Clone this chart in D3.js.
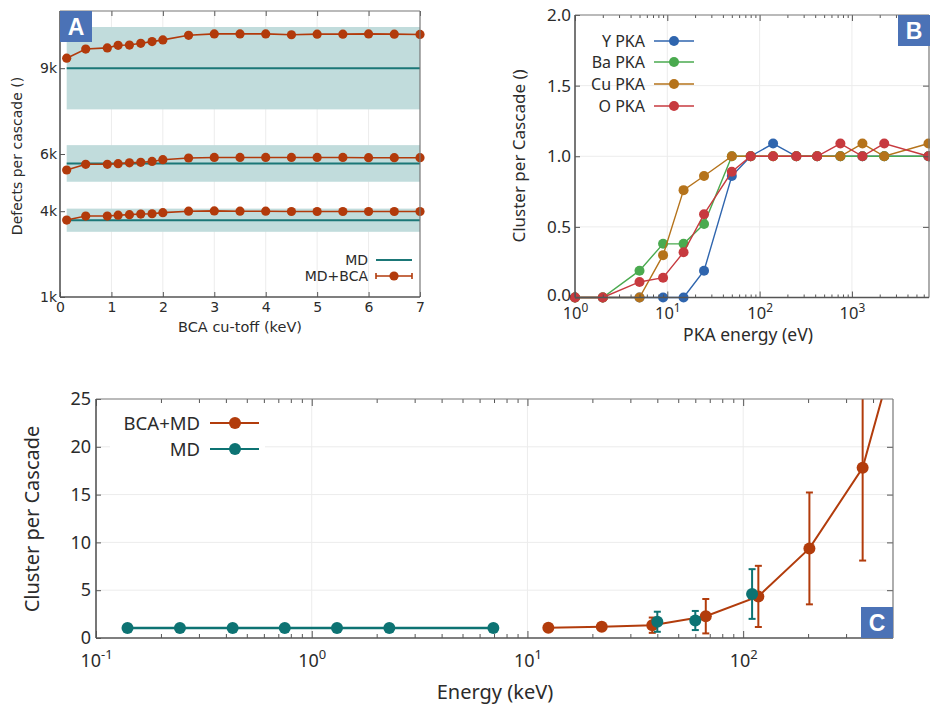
<!DOCTYPE html>
<html>
<head>
<meta charset="utf-8">
<script src="https://cdn.jsdelivr.net/npm/d3@7"></script>
<style>
  body { margin: 0; background: #fff; }
  svg { display: block; }
</style>
</head>
<body>
<svg id="fig" width="930" height="709"></svg>
<script>
// ---- Panel A: defects per cascade vs BCA cut-off ----
const cutoffKeV = [0.13, 0.5, 0.92, 1.13, 1.35, 1.57, 1.79, 2.0, 2.5, 3, 3.5, 4, 4.5, 5, 5.5, 6, 6.5, 7];
const bcaHigh = [9350, 9670, 9710, 9800, 9810, 9870, 9930, 9990, 10150, 10200, 10200, 10200, 10170, 10190, 10190, 10200, 10190, 10180];
const bcaMid  = [5440, 5640, 5640, 5660, 5690, 5710, 5740, 5800, 5860, 5880, 5880, 5880, 5880, 5880, 5880, 5870, 5870, 5870];
const bcaLow  = [3690, 3830, 3830, 3860, 3880, 3900, 3910, 3950, 4000, 4010, 4000, 4000, 3990, 3990, 3990, 3990, 3990, 3990];
const mdMean   = [9000, 5670, 3685];
const mdSpread = [1440, 640, 405];
const defectTicks = [1000, 4000, 6000, 9000];

// ---- Panel B: cluster per cascade vs PKA energy ----
const pkaEnergy = [1, 2, 5, 9, 15, 25, 50, 80, 140, 250, 420, 750, 1300, 2240, 6750];
const yPKA  = [0, 0, 0, 0, 0, 0.19, 0.86, 1.0, 1.09, 1.0, 1.0, 1.0, 1.0, 1.0, 1.0];
const baPKA = [0, 0, 0.19, 0.38, 0.38, 0.52, 1.0, 1.0, 1.0, 1.0, 1.0, 1.0, 1.0, 1.0, 1.0];
const cuPKA = [0, 0, 0, 0.30, 0.76, 0.86, 1.0, 1.0, 1.0, 1.0, 1.0, 1.0, 1.09, 1.0, 1.09];
const oPKA  = [0, 0, 0.11, 0.14, 0.32, 0.59, 0.89, 1.0, 1.0, 1.0, 1.0, 1.09, 1.0, 1.09, 1.0];
const pkaNames = ["Y PKA", "Ba PKA", "Cu PKA", "O PKA"];
const clusterTicksB = [0, 0.5, 1.0, 1.5, 2.0];

// ---- Panel C: cluster per cascade vs energy ----
const mdEnergy   = [0.14, 0.245, 0.43, 0.75, 1.31, 2.29, 6.95];
const mdClusters = [1.05, 1.05, 1.05, 1.05, 1.05, 1.05, 1.05];
const mdHiEnergy   = [40, 60, 110];
const mdHiClusters = [1.7, 1.83, 4.6];
const mdHiErr      = [1.05, 1.0, 2.6];
const bcaEnergy   = [12.5, 22.1, 37.9, 67.1, 117.6, 202.8, 358, 520];
const bcaClusters = [1.07, 1.17, 1.34, 2.28, 4.35, 9.37, 17.8, 31];
const bcaErr      = [0, 0, 0.8, 1.8, 3.2, 5.85, 9.7, 12];
const clusterTicksC = [0, 5, 10, 15, 20, 25];

const svg = d3.select("#fig");
const TXT = "#2b2b2b", AXIS = "#555", GRID = "#ececec", BOX = "#4b72b6";

function styleAxis(g, size, family) {
  g.select(".domain").remove();
  g.selectAll(".tick line").attr("stroke", AXIS).attr("stroke-width", 1);
  g.selectAll(".tick text").attr("fill", TXT).attr("font-size", size).attr("font-family", family);
}

function supLabels(g, size) {
  g.selectAll(".tick text").each(function(d) {
    const t = d3.select(this).text(null);
    t.append("tspan").text("10");
    t.append("tspan").attr("dy", -size * 0.42).attr("font-size", size * 0.72)
      .text(Math.round(Math.log10(d)));
  });
}

function logMinors(domain) {
  const out = [];
  const lo = Math.floor(Math.log10(domain[0])), hi = Math.ceil(Math.log10(domain[1]));
  for (let k = lo; k <= hi; k++)
    for (let m = 2; m <= 9; m++) {
      const v = m * Math.pow(10, k);
      if (v > domain[0] && v < domain[1]) out.push(v);
    }
  return out;
}

function frame(g, b) {
  g.append("line").attr("x1", b.l).attr("x2", b.r).attr("y1", b.t).attr("y2", b.t).attr("stroke", "#777").attr("stroke-width", 1.2);
  g.append("line").attr("x1", b.r).attr("x2", b.r).attr("y1", b.t).attr("y2", b.b).attr("stroke", "#777").attr("stroke-width", 1.2);
  g.append("line").attr("x1", b.l).attr("x2", b.r).attr("y1", b.b).attr("y2", b.b).attr("stroke", AXIS).attr("stroke-width", 1.6);
  g.append("line").attr("x1", b.l).attr("x2", b.l).attr("y1", b.t).attr("y2", b.b).attr("stroke", AXIS).attr("stroke-width", 1.6);
}

function panelTag(x, y, letter) {
  svg.append("rect").attr("x", x).attr("y", y).attr("width", 32).attr("height", 31).attr("fill", BOX);
  svg.append("text").attr("x", x + 16).attr("y", y + 24).attr("text-anchor", "middle")
    .attr("font-family", "Liberation Sans, Arial, sans-serif").attr("font-weight", "bold")
    .attr("font-size", 23).attr("fill", "#fff").text(letter);
}

/* ================= Panel A ================= */
{
  const A = { l: 60, r: 420, t: 11, b: 297 };
  const FAM = "DejaVu Sans, sans-serif";
  const RED = "#b23a0b", TEAL = "#1b7777";
  const x = d3.scaleLinear().domain([0, 7]).range([A.l, A.r]);
  const y = d3.scaleLinear().domain([1000, 11000]).range([A.b, A.t]);
  const g = svg.append("g");

  g.append("g").selectAll("line").data(x.ticks(7).slice(1, -1)).join("line")
    .attr("x1", x).attr("x2", x).attr("y1", A.t).attr("y2", A.b).attr("stroke", GRID);

  const x0 = x(cutoffKeV[0]), x1 = x(d3.max(cutoffKeV));
  g.append("g").selectAll("rect").data(mdMean).join("rect")
    .attr("x", x0).attr("width", x1 - x0)
    .attr("y", (d, i) => y(d + mdSpread[i]))
    .attr("height", (d, i) => y(d - mdSpread[i]) - y(d + mdSpread[i]))
    .attr("fill", "#c1dcdc");

  g.append("g").selectAll("line").data(mdMean).join("line")
    .attr("x1", x0).attr("x2", x1).attr("y1", d => y(d)).attr("y2", d => y(d))
    .attr("stroke", TEAL).attr("stroke-width", 2);

  const line = d3.line().x((d, i) => x(cutoffKeV[i])).y(d => y(d));
  [bcaHigh, bcaMid, bcaLow].forEach(s => {
    g.append("path").datum(s).attr("d", line).attr("fill", "none").attr("stroke", RED).attr("stroke-width", 1.6);
    g.append("g").selectAll("circle").data(s).join("circle")
      .attr("cx", (d, i) => x(cutoffKeV[i])).attr("cy", d => y(d)).attr("r", 4.6).attr("fill", RED);
  });

  const bx = g.append("g").attr("transform", `translate(0,${A.b})`)
    .call(d3.axisBottom(x).ticks(7).tickSize(-5).tickPadding(5));
  styleAxis(bx, 14, FAM);
  const tx = g.append("g").attr("transform", `translate(0,${A.t})`)
    .call(d3.axisTop(x).ticks(7).tickSize(-5).tickFormat(""));
  styleAxis(tx, 14, FAM);
  const ly = g.append("g").attr("transform", `translate(${A.l},0)`)
    .call(d3.axisLeft(y).tickValues(defectTicks).tickFormat(d => d / 1000 + "k").tickSize(-5).tickPadding(3));
  styleAxis(ly, 14, FAM);
  frame(g, A);

  g.append("text").attr("x", 240).attr("y", 332).attr("text-anchor", "middle")
    .attr("font-family", FAM).attr("font-size", 14.5).attr("fill", TXT).text("BCA cu-toff (keV)");
  g.append("text").attr("transform", "translate(22,156) rotate(-90)").attr("text-anchor", "middle")
    .attr("font-family", FAM).attr("font-size", 14).attr("fill", TXT).text("Defects per cascade ()");

  // legend
  const lg = g.append("g").attr("font-family", FAM).attr("font-size", 14).attr("fill", TXT);
  lg.append("text").attr("x", 368).attr("y", 265).attr("text-anchor", "end").text("MD");
  lg.append("line").attr("x1", 376).attr("x2", 412).attr("y1", 260).attr("y2", 260).attr("stroke", TEAL).attr("stroke-width", 2);
  lg.append("text").attr("x", 368).attr("y", 281).attr("text-anchor", "end").text("MD+BCA");
  lg.append("line").attr("x1", 376).attr("x2", 412).attr("y1", 276).attr("y2", 276).attr("stroke", RED).attr("stroke-width", 1.6);
  [376, 412].forEach(cx => lg.append("line").attr("x1", cx).attr("x2", cx).attr("y1", 273).attr("y2", 279).attr("stroke", RED).attr("stroke-width", 1.6));
  lg.append("circle").attr("cx", 394).attr("cy", 276).attr("r", 4.6).attr("fill", RED);

  panelTag(60, 11, "A");
}

/* ================= Panel B ================= */
{
  const B = { l: 575, r: 929, t: 15, b: 297.5 };
  const FAM = "Noto Sans, Open Sans, sans-serif";
  const COLORS = ["#2f65ae", "#4aaa4f", "#b5731b", "#c73a3f"];
  const series = [yPKA, baPKA, cuPKA, oPKA];
  const dom = [1, 6840];
  const x = d3.scaleLog().domain(dom).range([B.l, B.r]);
  const y = d3.scaleLinear().domain([0, 2]).range([B.b, B.t]);
  const g = svg.append("g");
  const majors = [1, 10, 100, 1000];
  const minors = logMinors(dom);

  g.append("g").selectAll("line").data(majors.slice(1)).join("line")
    .attr("x1", x).attr("x2", x).attr("y1", B.t).attr("y2", B.b).attr("stroke", GRID);
  g.append("g").selectAll("line").data([0.5, 1.0, 1.5]).join("line")
    .attr("x1", B.l).attr("x2", B.r).attr("y1", y).attr("y2", y).attr("stroke", GRID);

  const line = d3.line().x((d, i) => x(pkaEnergy[i])).y(d => y(d));
  series.forEach((s, k) => {
    g.append("path").datum(s).attr("d", line).attr("fill", "none").attr("stroke", COLORS[k]).attr("stroke-width", 1.4);
    g.append("g").selectAll("circle").data(s).join("circle")
      .attr("cx", (d, i) => x(pkaEnergy[i])).attr("cy", d => y(d)).attr("r", 5).attr("fill", COLORS[k]);
  });

  const bMaj = g.append("g").attr("transform", `translate(0,${B.b})`)
    .call(d3.axisBottom(x).tickValues(majors).tickSize(-6).tickPadding(10));
  styleAxis(bMaj, 16.5, FAM);
  supLabels(bMaj, 16.5);
  const bMin = g.append("g").attr("transform", `translate(0,${B.b})`)
    .call(d3.axisBottom(x).tickValues(minors).tickSize(-3).tickFormat(""));
  styleAxis(bMin, 16.5, FAM);
  const tMaj = g.append("g").attr("transform", `translate(0,${B.t})`)
    .call(d3.axisTop(x).tickValues(majors).tickSize(-6).tickFormat(""));
  styleAxis(tMaj, 16.5, FAM);
  const tMin = g.append("g").attr("transform", `translate(0,${B.t})`)
    .call(d3.axisTop(x).tickValues(minors).tickSize(-3).tickFormat(""));
  styleAxis(tMin, 16.5, FAM);
  const ly = g.append("g").attr("transform", `translate(${B.l},0)`)
    .call(d3.axisLeft(y).tickValues(clusterTicksB).tickFormat(d3.format(".1f")).tickSize(-5).tickPadding(4));
  styleAxis(ly, 17, FAM);
  ly.selectAll(".tick text").filter(d => d === 0).attr("dy", "0.2em");
  const ry = g.append("g").attr("transform", `translate(${B.r},0)`)
    .call(d3.axisRight(y).tickValues([0.5, 1.0, 1.5]).tickSize(-6).tickFormat(""));
  styleAxis(ry, 17, FAM);
  frame(g, B);

  g.append("text").attr("x", 748).attr("y", 341).attr("text-anchor", "middle")
    .attr("font-family", FAM).attr("font-size", 17.5).attr("fill", TXT).text("PKA energy (eV)");
  g.append("text").attr("transform", "translate(525,156) rotate(-90)").attr("text-anchor", "middle")
    .attr("font-family", FAM).attr("font-size", 17).attr("fill", TXT).text("Cluster per Cascade ()");

  const rows = [41, 62, 84, 106];
  const lg = g.append("g").attr("font-family", FAM).attr("font-size", 16).attr("fill", TXT);
  pkaNames.forEach((n, k) => {
    lg.append("text").attr("x", 645).attr("y", rows[k] + 5.5).attr("text-anchor", "end").text(n);
    lg.append("line").attr("x1", 654).attr("x2", 694).attr("y1", rows[k]).attr("y2", rows[k]).attr("stroke", COLORS[k]).attr("stroke-width", 1.4);
    lg.append("circle").attr("cx", 674).attr("cy", rows[k]).attr("r", 5).attr("fill", COLORS[k]);
  });

  panelTag(898, 15, "B");
}

/* ================= Panel C ================= */
{
  const C = { l: 96, r: 893, t: 399, b: 638 };
  const FAM = "Noto Sans, Open Sans, sans-serif";
  const RED = "#b23c0c", TEAL = "#0d7373";
  const dom = [0.1, 495];
  const x = d3.scaleLog().domain(dom).range([C.l, C.r]);
  const y = d3.scaleLinear().domain([0, 25]).range([C.b, C.t]);
  const g = svg.append("g");
  const majors = [0.1, 1, 10, 100];
  const minors = logMinors(dom);

  svg.append("defs").append("clipPath").attr("id", "clipC")
    .append("rect").attr("x", C.l).attr("y", C.t).attr("width", C.r - C.l).attr("height", C.b - C.t);

  g.append("g").selectAll("line").data(majors.slice(1)).join("line")
    .attr("x1", x).attr("x2", x).attr("y1", C.t).attr("y2", C.b).attr("stroke", GRID);
  g.append("g").selectAll("line").data(clusterTicksC.slice(1, -1)).join("line")
    .attr("x1", C.l).attr("x2", C.r).attr("y1", y).attr("y2", y).attr("stroke", GRID);

  const plot = g.append("g").attr("clip-path", "url(#clipC)");

  // BCA+MD
  const bcaLine = d3.line().x((d, i) => x(bcaEnergy[i])).y(d => y(d));
  plot.append("path").datum(bcaClusters).attr("d", bcaLine).attr("fill", "none").attr("stroke", RED).attr("stroke-width", 2);
  const errB = plot.append("g").attr("stroke", RED).attr("stroke-width", 2);
  bcaClusters.forEach((v, i) => {
    if (!bcaErr[i]) return;
    const cx = x(bcaEnergy[i]);
    errB.append("line").attr("x1", cx).attr("x2", cx).attr("y1", y(v - bcaErr[i])).attr("y2", y(v + bcaErr[i]));
    [v - bcaErr[i], v + bcaErr[i]].forEach(e =>
      errB.append("line").attr("x1", cx - 3.5).attr("x2", cx + 3.5).attr("y1", y(e)).attr("y2", y(e)));
  });
  plot.append("g").selectAll("circle").data(bcaClusters).join("circle")
    .attr("cx", (d, i) => x(bcaEnergy[i])).attr("cy", d => y(d)).attr("r", 6).attr("fill", RED);

  // MD
  const mdLine = d3.line().x((d, i) => x(mdEnergy[i])).y(d => y(d));
  plot.append("path").datum(mdClusters).attr("d", mdLine).attr("fill", "none").attr("stroke", TEAL).attr("stroke-width", 2.4);
  plot.append("g").selectAll("circle").data(mdClusters).join("circle")
    .attr("cx", (d, i) => x(mdEnergy[i])).attr("cy", d => y(d)).attr("r", 6).attr("fill", TEAL);
  const errM = plot.append("g").attr("stroke", TEAL).attr("stroke-width", 2);
  mdHiClusters.forEach((v, i) => {
    const cx = x(mdHiEnergy[i]);
    errM.append("line").attr("x1", cx).attr("x2", cx).attr("y1", y(v - mdHiErr[i])).attr("y2", y(v + mdHiErr[i]));
    [v - mdHiErr[i], v + mdHiErr[i]].forEach(e =>
      errM.append("line").attr("x1", cx - 3.5).attr("x2", cx + 3.5).attr("y1", y(e)).attr("y2", y(e)));
  });
  plot.append("g").selectAll("circle").data(mdHiClusters).join("circle")
    .attr("cx", (d, i) => x(mdHiEnergy[i])).attr("cy", d => y(d)).attr("r", 6).attr("fill", TEAL);

  const bMaj = g.append("g").attr("transform", `translate(0,${C.b})`)
    .call(d3.axisBottom(x).tickValues(majors).tickSize(-7).tickPadding(16));
  styleAxis(bMaj, 18, FAM);
  supLabels(bMaj, 18);
  const bMin = g.append("g").attr("transform", `translate(0,${C.b})`)
    .call(d3.axisBottom(x).tickValues(minors).tickSize(-4).tickFormat(""));
  styleAxis(bMin, 18, FAM);
  const tMaj = g.append("g").attr("transform", `translate(0,${C.t})`)
    .call(d3.axisTop(x).tickValues(majors).tickSize(-7).tickFormat(""));
  styleAxis(tMaj, 18, FAM);
  const tMin = g.append("g").attr("transform", `translate(0,${C.t})`)
    .call(d3.axisTop(x).tickValues(minors).tickSize(-4).tickFormat(""));
  styleAxis(tMin, 18, FAM);
  const ly = g.append("g").attr("transform", `translate(${C.l},0)`)
    .call(d3.axisLeft(y).tickValues(clusterTicksC).tickSize(-5).tickPadding(5));
  styleAxis(ly, 18, FAM);
  const ry = g.append("g").attr("transform", `translate(${C.r},0)`)
    .call(d3.axisRight(y).tickValues(clusterTicksC.slice(1, -1)).tickSize(-6).tickFormat(""));
  styleAxis(ry, 18, FAM);
  frame(g, C);

  g.append("text").attr("x", 495).attr("y", 699).attr("text-anchor", "middle")
    .attr("font-family", FAM).attr("font-size", 20).attr("fill", TXT).text("Energy (keV)");
  g.append("text").attr("transform", "translate(39,519) rotate(-90)").attr("text-anchor", "middle")
    .attr("font-family", FAM).attr("font-size", 20).attr("fill", TXT).text("Cluster per Cascade");

  const lg = g.append("g").attr("font-family", FAM).attr("font-size", 18.5).attr("fill", TXT);
  [["BCA+MD", RED, 423], ["MD", TEAL, 449]].forEach(([n, c, ry0]) => {
    lg.append("rect").attr("x", 110).attr("y", ry0 - 12).attr("width", 155).attr("height", 24).attr("fill", "#fff");
    lg.append("text").attr("x", 200).attr("y", ry0 + 6.5).attr("text-anchor", "end").text(n);
    lg.append("line").attr("x1", 210).attr("x2", 259).attr("y1", ry0).attr("y2", ry0).attr("stroke", c).attr("stroke-width", 2);
    lg.append("circle").attr("cx", 235).attr("cy", ry0).attr("r", 6).attr("fill", c);
  });

  panelTag(861, 607, "C");
}
</script>
</body>
</html>
